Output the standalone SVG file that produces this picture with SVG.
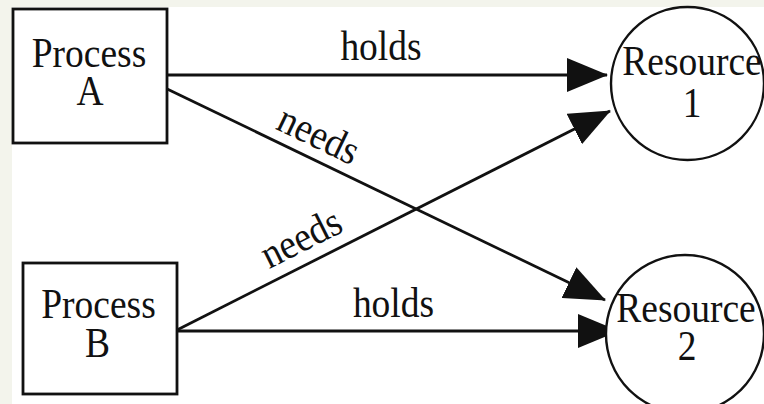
<svg xmlns="http://www.w3.org/2000/svg" width="764" height="404" viewBox="0 0 764 404">
  <style>
    .bg { fill: #f3f4ec; }
    .panel { fill: #ffffff; }
    .box { fill: #ffffff; stroke: #111111; stroke-width: 2.8; }
    .res { fill: #ffffff; stroke: #111111; stroke-width: 2.4; }
    .edge { fill: none; stroke: #111111; stroke-width: 2.8; }
    .t { font-family: "Liberation Serif", "Times New Roman", serif; font-size: 37.5px; fill: #111111; text-anchor: middle; }
  </style>
  <defs>
    <marker id="ah" markerUnits="userSpaceOnUse" viewBox="0 0 41 34" markerWidth="41" markerHeight="34" refX="40" refY="17" orient="auto">
      <path d="M0,0 L41,17 L0,34 Z" fill="#111111"/>
    </marker>
  </defs>
  <rect class="bg" x="0" y="0" width="764" height="404"/>
  <rect class="panel" x="12" y="7" width="752" height="397"/>

  <g id="connectors">
    <line class="edge" x1="167" y1="75" x2="607" y2="75" marker-end="url(#ah)"/>
    <line class="edge" x1="163" y1="87" x2="605" y2="300" marker-end="url(#ah)"/>
    <line class="edge" x1="177" y1="330" x2="610" y2="111" marker-end="url(#ah)"/>
    <line class="edge" x1="177" y1="331" x2="618" y2="331" marker-end="url(#ah)"/>
    <text class="t" transform="translate(381,60) scale(1,1.1)">holds</text>
    <text class="t" transform="translate(313,147) rotate(25.7) scale(1,1.1)">needs</text>
    <text class="t" transform="translate(307,250) rotate(-26.7) scale(1,1.1)">needs</text>
    <text class="t" transform="translate(393.5,317) scale(1,1.1)">holds</text>
  </g>

  <g id="processA">
    <rect class="box" x="13" y="9" width="154" height="134"/>
    <text class="t" transform="translate(89,67) scale(1,1.1)">Process</text>
    <text class="t" transform="translate(90,105) scale(1,1.1)">A</text>
  </g>

  <g id="processB">
    <rect class="box" x="23" y="263" width="154" height="131"/>
    <text class="t" transform="translate(98.5,318) scale(1,1.1)">Process</text>
    <text class="t" transform="translate(97.5,357) scale(1,1.1)">B</text>
  </g>

  <g id="resource1">
    <circle class="res" cx="687.5" cy="83.5" r="76.5"/>
    <text class="t" transform="translate(692,75) scale(1,1.1)">Resource</text>
    <text class="t" transform="translate(692,117) scale(1,1.1)">1</text>
  </g>

  <g id="resource2">
    <circle class="res" cx="685" cy="334" r="79"/>
    <text class="t" transform="translate(686,322) scale(1,1.1)">Resource</text>
    <text class="t" transform="translate(687,360) scale(1,1.1)">2</text>
  </g>
</svg>
